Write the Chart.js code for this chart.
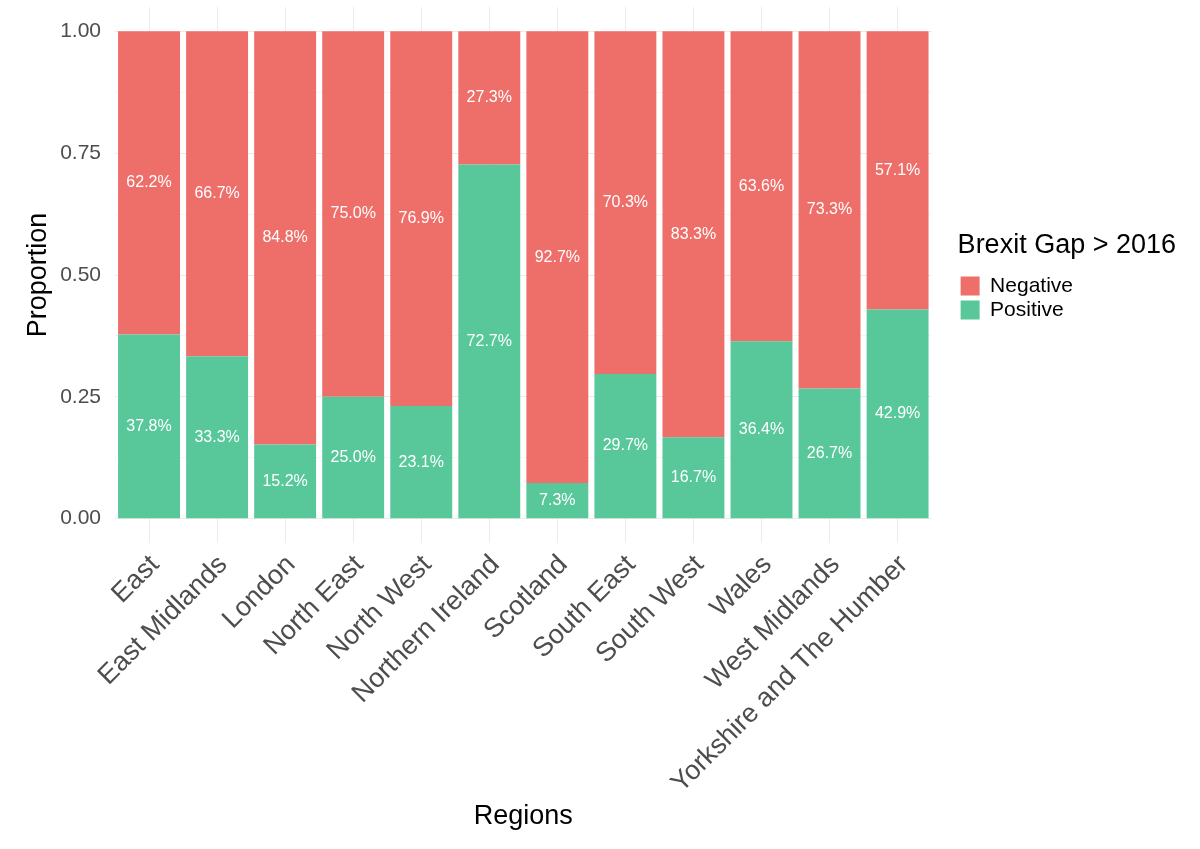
<!DOCTYPE html>
<html>
<head>
<meta charset="utf-8">
<script src="https://cdn.jsdelivr.net/npm/chart.js@4"></script>
<style>
  html, body { margin: 0; padding: 0; background: #fff; }
  #wrap { width: 1200px; height: 849px; }
</style>
</head>
<body>
<div id="wrap"><canvas id="brexitChart"></canvas></div>
<script>
const regions = ["East", "East Midlands", "London", "North East", "North West", "Northern Ireland",
    "Scotland", "South East", "South West", "Wales", "West Midlands", "Yorkshire and The Humber"];
// percentages
const positivePct = [37.8, 33.3, 15.2, 25.0, 23.1, 72.7, 7.3, 29.7, 16.7, 36.4, 26.7, 42.9];
const negativePct = [62.2, 66.7, 84.8, 75.0, 76.9, 27.3, 92.7, 70.3, 83.3, 63.6, 73.3, 57.1];
const yTicks = [0, 0.125, 0.25, 0.375, 0.5, 0.625, 0.75, 0.875, 1];

const FONT = "'Liberation Sans', Arial, Helvetica, sans-serif";

// white % labels in the middle of each segment
const segmentLabels = {
    id: "segmentLabels",
    afterDatasetsDraw(chart) {
        const ctx = chart.ctx;
        ctx.save();
        ctx.fillStyle = "#ffffff";
        ctx.font = "16px " + FONT;
        ctx.textAlign = "center";
        ctx.textBaseline = "middle";
        chart.data.datasets.forEach((ds, i) => {
            const meta = chart.getDatasetMeta(i);
            meta.data.forEach((bar, j) => {
                ctx.fillText(ds.pct[j].toFixed(1) + "%", bar.x, (bar.y + bar.base) / 2);
            });
        });
        ctx.restore();
    },
};

// nudge the legend away from the panel and let the long title run past the item column
const legendGap = {
    id: "legendGap",
    afterLayout(chart) {
        const lg = chart.legend;
        if (lg) {
            lg.left += 26;
            lg.right = chart.width;
            lg.width = lg.right - lg.left;
        }
    },
};

new Chart(document.getElementById("brexitChart"), {
    type: "bar",
    data: {
        labels: regions,
        datasets: [
            {
                label: "Positive",
                data: positivePct.map((v) => v / 100),
                pct: positivePct,
                backgroundColor: "#58c89b",
            },
            {
                label: "Negative",
                data: negativePct.map((v) => v / 100),
                pct: negativePct,
                backgroundColor: "#ee6f69",
            },
        ],
    },
    options: {
        responsive: true,
        maintainAspectRatio: false,
        animation: false,
        layout: { padding: { top: 7, left: 12, bottom: 12, right: 143 } },
        datasets: { bar: { barPercentage: 0.91, categoryPercentage: 1 } },
        scales: {
            x: {
                stacked: true,
                afterFit: (s) => {
                    s.height = 849 - 12 - 543;
                    s.paddingLeft = 0;
                    s.paddingRight = 0;
                },
                grid: { offset: false, color: "#ebebeb", drawTicks: false },
                border: { display: false },
                ticks: {
                    minRotation: 45,
                    maxRotation: 45,
                    padding: 6,
                    labelOffset: 6,
                    color: "#4d4d4d",
                    font: { family: FONT, size: 27 },
                },
                title: {
                    display: true,
                    text: "Regions",
                    color: "#000",
                    font: { family: FONT, size: 27 },
                    padding: { top: 0, bottom: 4 },
                },
            },
            y: {
                stacked: true,
                min: -0.05,
                max: 1.05,
                afterFit: (s) => {
                    s.width = 115 - 12;
                    s.paddingTop = 0;
                    s.paddingBottom = 0;
                },
                afterBuildTicks: (s) => { s.ticks = yTicks.map((v) => ({ value: v })); },
                grid: {
                    drawTicks: false,
                    color: (c) => (c.tick && c.tick.value * 4 % 1 === 0 ? "#ebebeb" : "#f5f5f5"),
                },
                border: { display: false },
                ticks: {
                    padding: 14,
                    color: "#4d4d4d",
                    font: { family: FONT, size: 21 },
                    callback: (v) => (v * 4 % 1 === 0 ? v.toFixed(2) : ""),
                },
                title: {
                    display: true,
                    text: "Proportion",
                    color: "#000",
                    font: { family: FONT, size: 27 },
                    padding: { top: 10, bottom: 0 },
                },
            },
        },
        plugins: {
            legend: {
                position: "right",
                align: "start",
                reverse: true,
                title: {
                    display: true,
                    text: "Brexit Gap > 2016",
                    position: "start",
                    color: "#000",
                    font: { family: FONT, size: 27 },
                    padding: { top: 225, bottom: 8 },
                },
                labels: {
                    boxWidth: 19,
                    boxHeight: 19,
                    padding: 3,
                    color: "#000",
                    font: { family: FONT, size: 21 },
                },
            },
            tooltip: { enabled: false },
        },
    },
    plugins: [segmentLabels, legendGap],
});
</script>
</body>
</html>
